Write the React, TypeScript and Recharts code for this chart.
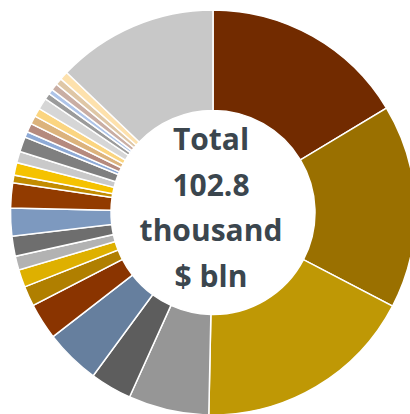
import { PieChart, Pie, Cell } from 'recharts'

// share of total, clockwise from 12 o'clock
const names = [
  'S1', 'S2', 'S3', 'S4', 'S5', 'S6', 'S7', 'S8', 'S9', 'S10',
  'S11', 'S12', 'S13', 'S14', 'S15', 'S16', 'S17', 'S18', 'S19', 'S20',
  'S21', 'S22', 'S23', 'S24', 'S25', 'S26', 'S27', 'S28',
]
const values = [
  16.3, 16.2, 17.6, 6.4, 3.3, 4.4, 2.9, 1.6, 1.4, 1.1,
  1.6, 2.2, 2.0, 0.6, 1.0, 0.9, 1.2, 0.45, 0.7, 0.67,
  0.67, 0.9, 0.5, 0.4, 0.55, 0.53, 0.67, 12.8,
]
const colors = [
  '#722b00', '#9a7000', '#bf9805', '#969696', '#5d5d5d', '#667f9e', '#8a3400', '#b07f00', '#deb000', '#b2b2b2',
  '#6e6e6e', '#7d99bf', '#923b00', '#c38c00', '#f5c200', '#c9c9c9', '#7f7f7f', '#8eaad6', '#b58a7e', '#dcb37c',
  '#fbd580', '#d6d6d6', '#9b9b9b', '#aec4e8', '#c9aea4', '#dfc7a6', '#fde1ad', '#c8c8c8',
]
const centerLines = ['Total', '102.8', 'thousand', '$ bln']

const data = names.map((name, i) => ({ name, value: values[i] }))

export default function App() {
  return (
    <div style={{ position: 'absolute', left: 0, top: 0, width: 410, height: 414, overflow: 'hidden' }}>
      <PieChart width={430} height={430} margin={{ top: 0, right: 0, bottom: 0, left: 0 }}>
        <Pie
          data={data}
          dataKey="value"
          cx={213}
          cy={212.5}
          innerRadius={102}
          outerRadius={202.5}
          startAngle={90}
          endAngle={-270}
          stroke="#ffffff"
          strokeWidth={1.5}
          isAnimationActive={false}
        >
          {data.map((d, i) => (
            <Cell key={d.name} fill={colors[i]} />
          ))}
        </Pie>
      </PieChart>
      <div
        style={{
          position: 'absolute',
          left: 111,
          top: 116,
          width: 200,
          textAlign: 'center',
          fontFamily: '"Open Sans", sans-serif',
          fontWeight: 700,
          fontSize: 30,
          lineHeight: '45.7px',
          color: '#3b464e',
        }}
      >
        {centerLines.map((t) => (
          <div key={t}>{t}</div>
        ))}
      </div>
    </div>
  )
}
